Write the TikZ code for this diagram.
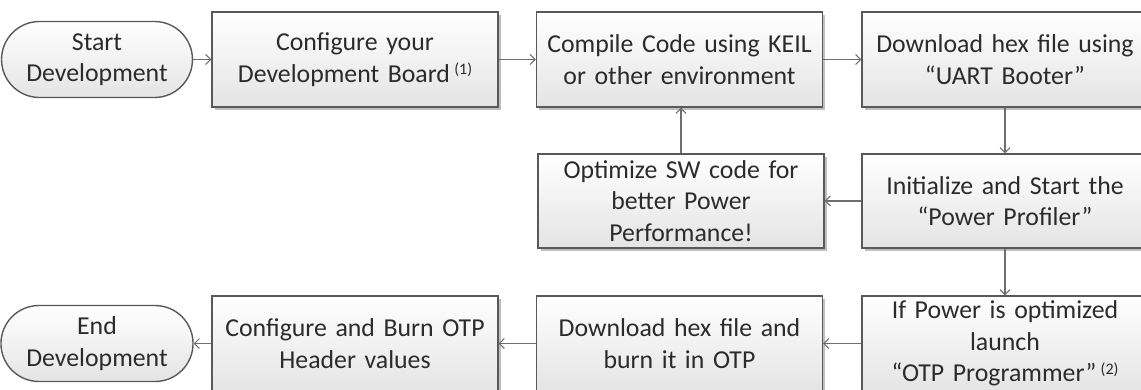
\documentclass[tikz,border=0pt]{standalone}
\usepackage{fontspec}
\setmainfont{Carlito}
\usetikzlibrary{arrows.meta,shapes.misc,shadows}
\definecolor{edge}{HTML}{595959}
\definecolor{ink}{HTML}{2B2B2B}
\definecolor{wire}{HTML}{6E6E6E}
\definecolor{shadebot}{HTML}{E4E4E4}
\tikzset{
  stepbox/.style={rectangle, draw=edge, line width=1.4pt,
    top color=white, bottom color=shadebot,
    minimum width=286pt, minimum height=95pt, inner sep=0pt,
    text width=280pt, align=center, text=ink,
    font=\fontsize{25.8}{31.5}\selectfont,
    drop shadow={shadow xshift=2.5pt, shadow yshift=-2.5pt, fill=black, opacity=0.25}},
  termbox/.style={rounded rectangle, draw=edge, line width=1.4pt,
    top color=white, bottom color=shadebot,
    minimum width=174pt, minimum height=76pt, inner sep=0pt,
    text width=170pt, align=center, text=ink,
    font=\fontsize{25.8}{31.5}\selectfont},
  flow/.style={draw=wire, line width=1.4pt,
    -{Straight Barb[length=5pt,width=10pt,line width=1pt]}},
}
\newcommand{\fnref}[1]{\,\raisebox{0.6ex}{\fontsize{16}{16}\selectfont(#1)}}
\begin{document}
\begin{tikzpicture}[x=1pt,y=-1pt]
  \clip (0,0) rectangle (1141,389);
  \fill[white] (0,0) rectangle (1141,389);

  % top row
  \node[termbox] (start) at (97,59.5) {Start\\Development};
  \node[stepbox] (conf) at (355,59.5) {Configure your\\Development Board\fnref{1}};
  \node[stepbox] (comp) at (679.5,59.5) {Compile Code using KEIL\\or other environment};
  \node[stepbox] (dl) at (1005,59.5) {Download hex file using\\“UART Booter”};

  % middle row
  \node[stepbox, minimum height=94pt] (opt) at (681,201) {Optimize SW code for\\better Power\\Performance!};
  \node[stepbox, minimum height=94pt] (init) at (1005,201) {Initialize and Start the\\“Power Profiler”};

  % bottom row
  \node[termbox] (endn) at (97,343.5) {End\\Development};
  \node[stepbox] (cfgb) at (355,343.5) {Configure and Burn OTP\\Header values};
  \node[stepbox] (dlb) at (679.5,343.5) {Download hex file and\\burn it in OTP};
  \node[stepbox] (ifp) at (1005,343.5) {If Power is optimized\\launch\\“OTP Programmer”\fnref{2}};

  % connectors
  \draw[flow] (start.east) -- (conf.west);
  \draw[flow] (conf.east) -- (comp.west);
  \draw[flow] (comp.east) -- (dl.west);
  \draw[flow] (dl.south) -- (init.north);
  \draw[flow] (init.west) -- (opt.east);
  \draw[flow] (opt.north) -- (opt.north |- comp.south);
  \draw[flow] (init.south) -- (ifp.north);
  \draw[flow] (ifp.west) -- (dlb.east);
  \draw[flow] (dlb.west) -- (cfgb.east);
  \draw[flow] (cfgb.west) -- (endn.east);
\end{tikzpicture}
\end{document}
